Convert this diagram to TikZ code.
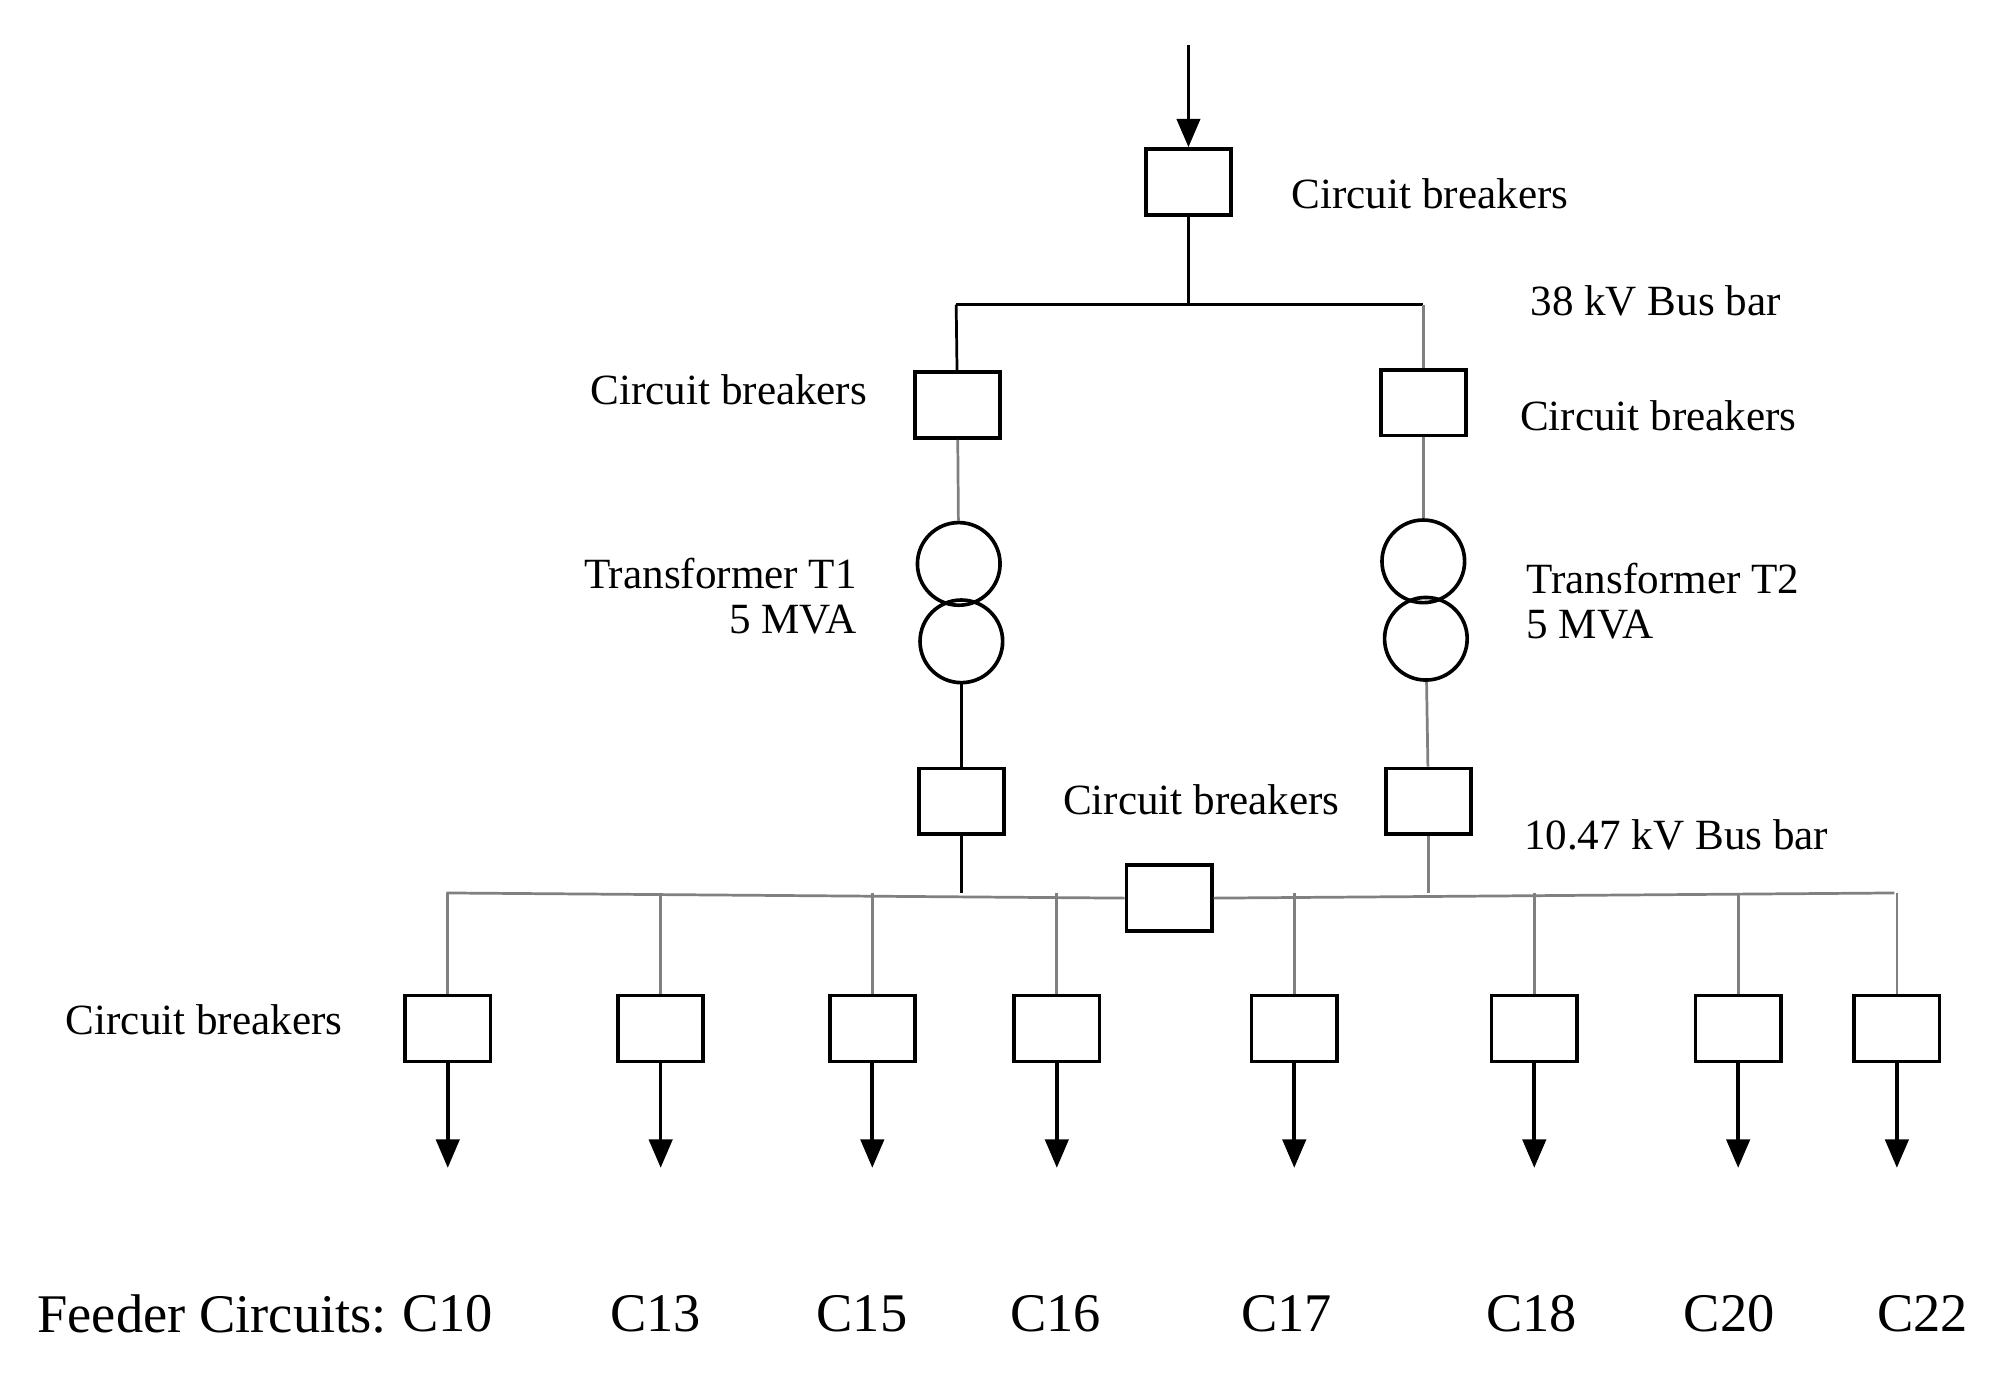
\documentclass[tikz,border=0pt]{standalone}
\usepackage{fontspec}
\setmainfont{Liberation Serif}
\usetikzlibrary{positioning, arrows.meta}
\begin{document}
\begin{tikzpicture}[x=0.01cm, y=-0.01cm, >={Triangle[length=0.22cm, width=0.18cm]}, semithick]
                \tikzstyle{breaker}=[draw, thick, minimum width=0.66cm, minimum height=0.51cm, inner sep=0pt]
                \tikzstyle{coil}=[draw, thick, circle, minimum size=0.64cm, inner sep=0pt]
                \tikzstyle{lbl}=[font=\fontsize{9.5}{11}\selectfont, inner sep=0pt]
                \tikzstyle{bus}=[draw=gray]
                \useasboundingbox (0,0) rectangle (1560,1072);

                % Incoming supply and main breaker
                \coordinate (in) at (921,35);
                \node[breaker] (cb0) at (921,141) {};
                \node[lbl, anchor=west] (lcb0) at (1000,150) {Circuit breakers};
                \draw[->, thick] (in) -- (cb0.north);

                % 38 kV bus bar
                \coordinate (b38) at (921,236);
                \coordinate (b38l) at (741,236);
                \coordinate (b38r) at (1103,236);
                \draw (cb0) -- (b38);
                \draw (b38l) -- (b38r);
                \node[lbl, anchor=west] (l38) at (1185,233) {38 kV Bus bar};

                % HV breakers
                \node[breaker] (cb1) at (742,314) {};
                \node[breaker] (cb2) at (1103,312) {};
                \node[lbl, anchor=east] (lcb1) at (673,302) {Circuit breakers};
                \node[lbl, anchor=west] (lcb2) at (1177,322) {Circuit breakers};
                \draw (b38l) -- (cb1);
                \draw[bus] (b38r) -- (cb2);

                % Transformers
                \node[coil] (t1a) at (743,437) {};
                \node[coil] (t1b) at (745,497) {};
                \node[coil] (t2a) at (1103,435) {};
                \node[coil] (t2b) at (1105,495) {};
                \node[lbl, align=right, anchor=east] (lt1) at (665,462) {Transformer T1\\[-1pt]5 MVA};
                \node[lbl, align=left, anchor=west] (lt2) at (1182,466) {Transformer T2\\[-1pt]5 MVA};
                \draw[bus] (cb1) -- (t1a);
                \draw[bus] (cb2) -- (t2a);

                % LV breakers
                \node[breaker] (cb3) at (745,621) {};
                \node[breaker] (cb4) at (1107,621) {};
                \node[lbl] (lcb3) at (931,620) {Circuit breakers};
                \node[lbl, anchor=west] (l10) at (1180,647) {10.47 kV Bus bar};
                \draw (t1b) -- (cb3);
                \draw[bus] (t2b) -- (cb4);

                % 10.47 kV bus bar with bus-tie breaker
                \coordinate (bl) at (346,692);
                \coordinate (br) at (1468,692);
                \node[breaker] (tie) at (906,696) {};
                \draw[bus] (bl) -- (tie.west);
                \draw[bus] (tie.east) -- (br);
                \draw (cb3) -- (745,692);
                \draw[bus] (cb4) -- (1107,692);

                % Feeders
                \node[lbl, anchor=west] (lcbf) at (50,790) {Circuit breakers};
                \node[font=\fontsize{12}{14}\selectfont, anchor=west, inner sep=0pt] (lfeed) at (28,1018) {Feeder Circuits:};
                \foreach \name/\x/\lx in {C10/347/347, C13/512/508, C15/676/668, C16/819/818,
                                          C17/1003/997, C18/1189/1187, C20/1347/1340, C22/1470/1490} {
                    \coordinate (top\name) at (\x,692);
                    \node[breaker] (cb\name) at (\x,797) {};
                    \coordinate (end\name) at (\x,905);
                    \node[font=\fontsize{12}{14}\selectfont, inner sep=0pt] (l\name) at (\lx,1018) {\name};
                    \draw[bus] (top\name) -- (cb\name);
                    \draw[->, thick] (cb\name) -- (end\name);
                }

            \end{tikzpicture}
\end{document}
